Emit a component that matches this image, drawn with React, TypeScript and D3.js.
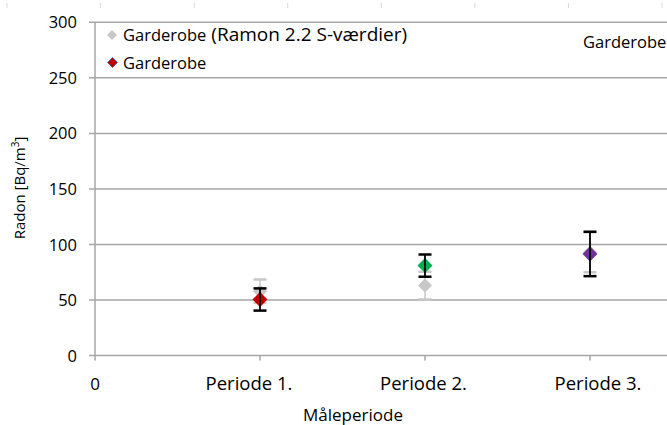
import { useEffect } from 'react'
import { scaleLinear, range } from 'd3'

const W = 667
const H = 425
const font = '"Open Sans", sans-serif'

// data
const periods = ['Periode 1.', 'Periode 2.', 'Periode 3.']
const periodIdx = [1, 2, 3]
const measured = [50.5, 81, 91.5]
const measuredErr = [10, 10, 20]
const measuredColors = ['#C00000', '#00B050', '#7030A0']
const ramon = [58, 63, 93]
const ramonErr = [10.5, 12.5, 18]
const yTicks = [0, 50, 100, 150, 200, 250, 300]

const x = scaleLinear().domain([0, 3.5]).range([95, 672.5])
const y = scaleLinear().domain([0, 300]).range([355.6, 22.3])
// the category labels sit a bit off their ticks in the original
const labelX = scaleLinear().domain([1, 3]).range([x(1) - 11, x(3) + 8])
// faint tick row from a neighbouring chart at the very top
const topTick = scaleLinear().domain([0, 7]).range([7, 662])

const diamond = (cx: number, cy: number, r: number) =>
  `M${cx},${cy - r}L${cx + r},${cy}L${cx},${cy + r}L${cx - r},${cy}Z`

function ErrBar({ cx, v, e, color, w }: { cx: number; v: number; e: number; color: string; w: number }) {
  const cap = 6.5
  return (
    <g stroke={color} strokeWidth={w}>
      <line x1={cx} x2={cx} y1={y(v + e)} y2={y(v - e)} />
      <line x1={cx - cap} x2={cx + cap} y1={y(v + e)} y2={y(v + e)} strokeWidth={2.5} />
      <line x1={cx - cap} x2={cx + cap} y1={y(v - e)} y2={y(v - e)} strokeWidth={2.5} />
    </g>
  )
}

function App() {
  useEffect(() => {
    document.body.style.margin = '0'
  }, [])

  return (
    <svg width={W} height={H} style={{ display: 'block', background: '#fff' }} fontFamily={font}>
      {range(8).map(i => (
        <line key={i} x1={topTick(i)} x2={topTick(i)} y1={3} y2={8} stroke="#d9d9d9" strokeWidth={1} />
      ))}

      {/* gridlines + y ticks */}
      {yTicks.map(t => (
        <g key={t}>
          <line x1={89} x2={W} y1={y(t)} y2={y(t)} stroke="#a6a6a6" strokeWidth={1.5} />
          <text x={77} y={y(t) + 6} textAnchor="end" fontSize={16.5} fill="#000">{t}</text>
        </g>
      ))}
      <line x1={x(0)} x2={x(0)} y1={y(300)} y2={y(0)} stroke="#a6a6a6" strokeWidth={1.5} />

      {/* x ticks */}
      {[0, ...periodIdx].map(p => (
        <line key={p} x1={x(p)} x2={x(p)} y1={y(0)} y2={y(0) + 5} stroke="#a6a6a6" strokeWidth={1.5} />
      ))}
      <text x={x(0)} y={390} textAnchor="middle" fontSize={17} fill="#000">0</text>
      {periods.map((p, i) => (
        <text key={p} x={labelX(periodIdx[i])} y={390} textAnchor="middle" fontSize={18.5} fill="#000">{p}</text>
      ))}

      <text x={353} y={421} textAnchor="middle" fontSize={17} fill="#000">Måleperiode</text>
      <text transform={`translate(25,188) rotate(-90)`} textAnchor="middle" fontSize={15} fill="#000">
        Radon [Bq/m<tspan fontSize={10} dy={-6}>3</tspan><tspan dy={6}>]</tspan>
      </text>

      {/* grey series (Ramon 2.2 S-værdier) */}
      {ramon.map((v, i) => (
        <g key={'r' + i}>
          <ErrBar cx={x(periodIdx[i])} v={v} e={ramonErr[i]} color="#c8c8c8" w={1.5} />
          <path d={diamond(x(periodIdx[i]), y(v), 7)} fill="#c8c8c8" />
        </g>
      ))}

      {/* measured series */}
      {measured.map((v, i) => (
        <g key={'m' + i}>
          <path d={diamond(x(periodIdx[i]), y(v), 7.5)} fill={measuredColors[i]} />
          <ErrBar cx={x(periodIdx[i])} v={v} e={measuredErr[i]} color="#000" w={1.8} />
        </g>
      ))}

      {/* legend */}
      <path d={diamond(112, 35, 5)} fill="#c8c8c8" />
      <text x={123} y={41} fontSize={16.5} fill="#000">
        Garderobe<tspan fontSize={19} dx={5}>(Ramon 2.2 S-værdier)</tspan>
      </text>
      <path d={diamond(112.5, 62.5, 5)} fill="#C00000" stroke="#4F6FB0" strokeWidth={1} />
      <text x={123} y={68.5} fontSize={16.5} fill="#000">Garderobe</text>

      <text x={583} y={48} fontSize={16.5} fill="#000">Garderobe</text>
    </svg>
  )
}

export default App
